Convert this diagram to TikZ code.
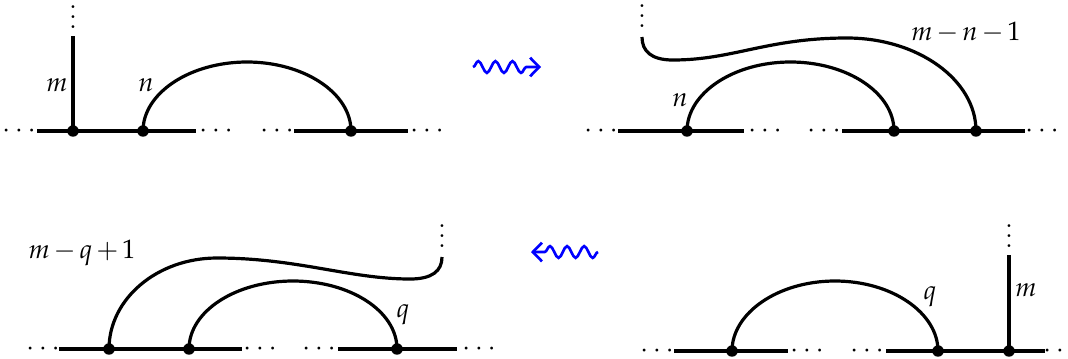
\documentclass[tikz,border=0pt]{standalone}
\usepackage{mathpazo}
\usetikzlibrary{decorations.pathmorphing,arrows.meta}
% three stacked dots without the extra space above them
\newcommand{\stackdots}{\vbox{\baselineskip3.8pt\lineskiplimit0pt\hbox{.}\hbox{.}\hbox{.}}}
\begin{document}
\begin{tikzpicture}[x=0.375pt,y=-0.375pt,
  strand/.style={line width=1.2pt},
  vtx/.style={circle,fill,inner sep=0pt,minimum size=4.3pt},
  hdots/.style={inner sep=0pt,anchor=base,yshift=-2.5pt},
  vdotsn/.style={inner sep=0pt,anchor=south},
  lbl/.style={inner sep=0pt,execute at begin node={\medmuskip=2.5mu}},
  wavy/.style={blue,line width=1pt,decorate,
    decoration={snake,amplitude=2.2pt,segment length=6.4pt,post length=3.2pt},
    -{Straight Barb[length=3.4pt,width=7pt]}}]
\useasboundingbox (0,0) rectangle (1068,358);

% ---------- upper left: leg m and arc n ----------
\coordinate (a1L) at (37,131);  \coordinate (a1R) at (196,131);
\coordinate (a2L) at (294,131); \coordinate (a2R) at (408,131);
\coordinate (aleg) at (73,36);
\coordinate (atop) at (247,62);
\draw[strand] (a1L) -- (a1R);
\draw[strand] (a2L) -- (a2R);
\node[vtx] (a1) at (73,131) {};
\node[vtx] (a2) at (143,131) {};
\node[vtx] (a3) at (351,131) {};
\draw[strand] (a1.center) -- (aleg);
\draw[strand] (a2.center) .. controls +(0,-38) and +(-57,0) .. (atop)
  .. controls +(57,0) and +(0,-38) .. (a3.center);
\node[hdots] (ad1) at (19,131) {$\cdots$};
\node[hdots] (ad2) at (216,131) {$\cdots$};
\node[hdots] (ad3) at (277,131) {$\cdots$};
\node[hdots] (ad4) at (427,131) {$\cdots$};
\node[vdotsn] (av) at (73,29) {\stackdots};
\node[lbl] (am) at (57,85) {$m$};
\node[lbl] (an) at (146,85) {$n$};

% ---------- upper right ----------
\coordinate (b1L) at (618,131); \coordinate (b1R) at (744,131);
\coordinate (b2L) at (842,131); \coordinate (b2R) at (1025,131);
\coordinate (btop) at (790.5,62);
\coordinate (bpeak) at (847,38);
\coordinate (bdip) at (673,60);
\coordinate (bend) at (642,37);
\draw[strand] (b1L) -- (b1R);
\draw[strand] (b2L) -- (b2R);
\node[vtx] (b1) at (687,131) {};
\node[vtx] (b2) at (894,131) {};
\node[vtx] (b3) at (976,131) {};
\draw[strand] (b1.center) .. controls +(0,-38) and +(-57,0) .. (btop)
  .. controls +(57,0) and +(0,-38) .. (b2.center);
\draw[strand] (b3.center) .. controls +(0,-51) and +(71,0) .. (bpeak)
  .. controls +(-80,0) and +(60,0) .. (bdip)
  .. controls +(-22,0) and +(0,14) .. (bend);
\node[hdots] (bd1) at (601,131) {$\cdots$};
\node[hdots] (bd2) at (765,131) {$\cdots$};
\node[hdots] (bd3) at (824,131) {$\cdots$};
\node[hdots] (bd4) at (1042,131) {$\cdots$};
\node[vdotsn] (bv) at (642,28) {\stackdots};
\node[lbl] (bmn) at (966,32) {$m-n-1$};
\node[lbl] (bn) at (680,100) {$n$};

% ---------- lower left ----------
\coordinate (c1L) at (59,349);  \coordinate (c1R) at (242,349);
\coordinate (c2L) at (338,349); \coordinate (c2R) at (457,349);
\coordinate (ctop) at (293,281);
\coordinate (cpeak) at (217,258);
\coordinate (cdip) at (410,279);
\coordinate (cend) at (442,257);
\draw[strand] (c1L) -- (c1R);
\draw[strand] (c2L) -- (c2R);
\node[vtx] (c1) at (109,349) {};
\node[vtx] (c2) at (189,349) {};
\node[vtx] (c3) at (397,349) {};
\draw[strand] (c2.center) .. controls +(0,-38) and +(-57,0) .. (ctop)
  .. controls +(57,0) and +(0,-38) .. (c3.center);
\draw[strand] (c1.center) .. controls +(0,-50) and +(-60,0) .. (cpeak)
  .. controls +(80,0) and +(-60,0) .. (cdip)
  .. controls +(22,0) and +(0,14) .. (cend);
\node[hdots] (cd1) at (43,349) {$\cdots$};
\node[hdots] (cd2) at (260,349) {$\cdots$};
\node[hdots] (cd3) at (319,349) {$\cdots$};
\node[hdots] (cd4) at (479,349) {$\cdots$};
\node[vdotsn] (cv) at (442,248) {\stackdots};
\node[lbl] (cmq) at (82,253) {$m-q+1$};
\node[lbl] (cq) at (403,315) {$q$};

% ---------- lower right ----------
\coordinate (d1L) at (674,351); \coordinate (d1R) at (788,351);
\coordinate (d2L) at (886,351); \coordinate (d2R) at (1045,351);
\coordinate (dleg) at (1009,255);
\coordinate (dtop) at (835,281);
\draw[strand] (d1L) -- (d1R);
\draw[strand] (d2L) -- (d2R);
\node[vtx] (d1) at (732,351) {};
\node[vtx] (d2) at (938,351) {};
\node[vtx] (d3) at (1009,351) {};
\draw[strand] (d1.center) .. controls +(0,-38) and +(-57,0) .. (dtop)
  .. controls +(57,0) and +(0,-38) .. (d2.center);
\draw[strand] (d3.center) -- (dleg);
\node[hdots] (dd1) at (657,351) {$\cdots$};
\node[hdots] (dd2) at (807,351) {$\cdots$};
\node[hdots] (dd3) at (867,351) {$\cdots$};
\node[hdots] (dd4) at (1060,351) {$\cdots$};
\node[vdotsn] (dv) at (1009,248) {\stackdots};
\node[lbl] (dm) at (1026,290) {$m$};
\node[lbl] (dq) at (930,297) {$q$};

% ---------- moves between the pictures ----------
\coordinate (w1s) at (473,67);  \coordinate (w1e) at (541,67);
\coordinate (w2s) at (598,252); \coordinate (w2e) at (531,252);
\draw[wavy] (w1s) -- (w1e);
\draw[wavy] (w2s) -- (w2e);
\end{tikzpicture}
\end{document}
